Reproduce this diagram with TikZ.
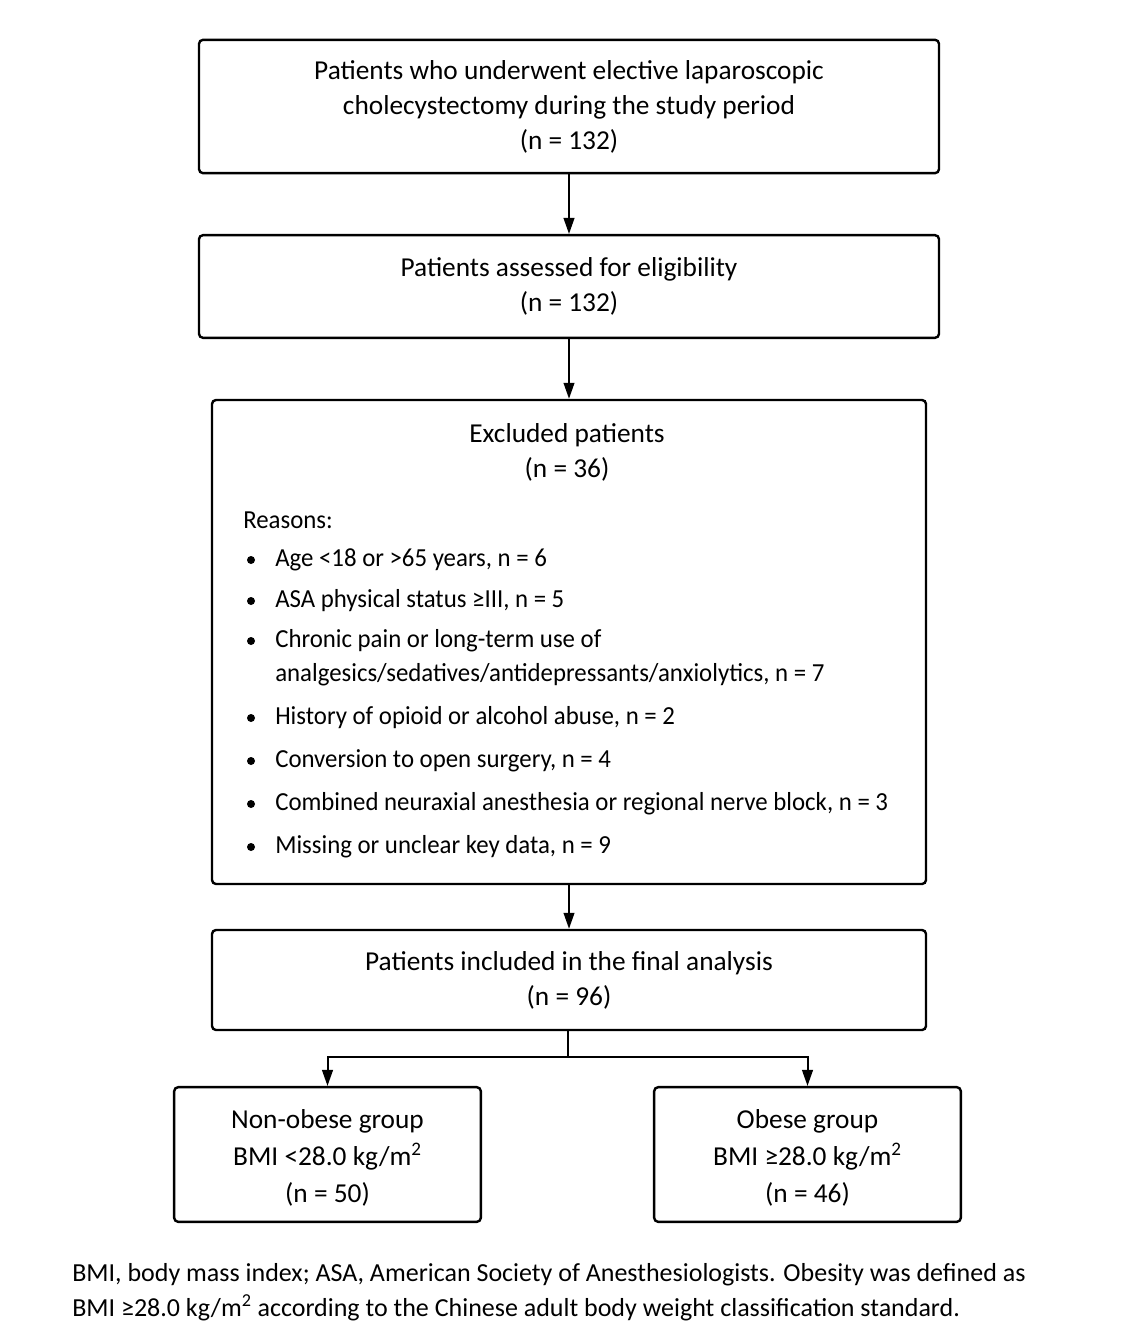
\documentclass[tikz,border=0pt]{standalone}
\usepackage{fontspec}
\setmainfont{Carlito}
\newfontfamily\listfont{Carlito}[FakeStretch=0.955]
\usetikzlibrary{arrows.meta}
\usetikzlibrary{positioning}
\tikzset{box/.style = {draw, line width = 1.8pt, rounded corners = 3pt, align = center,
    font = \fontsize{20.5}{26.3}\selectfont, inner sep = 0}}
\tikzset{txt/.style = {font = \fontsize{19.5}{26.3}\selectfont, inner sep = 0}}
\tikzset{item/.style = {font = \listfont\fontsize{19.5}{26.3}\selectfont, inner sep = 0, anchor = west}}
\tikzset{arr/.style = {line width = 1.5pt, -{Triangle[length = 12pt, width = 8pt]}}}
\tikzset{dot/.style = {fill, circle, inner sep = 0, minimum size = 6pt}}

\begin{document}
\begin{tikzpicture}[x = 0.75pt, y = -0.75pt]
      \useasboundingbox (0, 0) rectangle (1122, 1344);

      % main column
      \node [box, minimum width = 555pt, minimum height = 100pt] (all) at (569, 106.5)
        {Patients who underwent elective laparoscopic\\cholecystectomy during the study period\\(n = 132)};
      \node [box, minimum width = 555pt, minimum height = 77pt] (elig) at (569, 286.5)
        {Patients assessed for eligibility\\(n = 132)};
      \node [box, minimum width = 535.5pt, minimum height = 363pt] (excl) at (569, 642) {};
      \node [box, minimum width = 535.5pt, minimum height = 75pt] (incl) at (569, 980)
        {Patients included in the final analysis\\(n = 96)};

      % groups
      \node [box, minimum width = 230pt, minimum height = 101pt, font = \fontsize{20.5}{27.8}\selectfont]
        (nonob) at (327.5, 1154.5) {\rule{0pt}{19.5pt}Non-obese group\\BMI <28.0 kg/m\textsuperscript{2}\\(n = 50)};
      \node [box, minimum width = 230pt, minimum height = 101pt, font = \fontsize{20.5}{27.8}\selectfont]
        (obese) at (807.5, 1154.5) {\rule{0pt}{19.5pt}Obese group\\BMI ≥28.0 kg/m\textsuperscript{2}\\(n = 46)};

      % excluded box contents
      \node [txt, align = center, font = \fontsize{20.5}{26.3}\selectfont] (exclt) at (567, 452)
        {Excluded patients\\(n = 36)};
      \node [item] (reas) at (243, 520) {Reasons:};
      \foreach \i/\y/\t in {1/560/{Age <18 or >65 years, n = 6},
                            2/601/{ASA physical status ≥III, n = 5},
                            3/641/{Chronic pain or long-term use of},
                            4/718/{History of opioid or alcohol abuse, n = 2},
                            5/761/{Conversion to open surgery, n = 4},
                            6/804/{Combined neuraxial anesthesia or regional nerve block, n = 3},
                            7/847/{Missing or unclear key data, n = 9}}
      {
        \node [dot] (b\i) at (251, \y) {};
        \node [item] (r\i) at (275, \y) {\t};
      }
      \node [item] (r3b) at (275, 675)
        {analgesics/sedatives/antidepressants/anxiolytics, n = 7};

      % connectors
      \draw [arr] (all) -- (elig);
      \draw [arr] (elig) -- (excl);
      \draw [arr] (excl) -- (incl);
      \coordinate (split) at (568, 1057);
      \draw [line width = 1.5pt] (incl.south -| split) -- (split);
      \draw [arr] (split) -| (nonob.north);
      \draw [arr] (split) -| (obese.north);

      % note
      \node [txt, anchor = west, align = left] (note) at (72, 1292)
        {BMI, body mass index; ASA, American Society of Anesthesiologists. Obesity was defined as\\
         BMI ≥28.0 kg/m\textsuperscript{2} according to the Chinese adult body weight classification standard.};
    \end{tikzpicture}
\end{document}
